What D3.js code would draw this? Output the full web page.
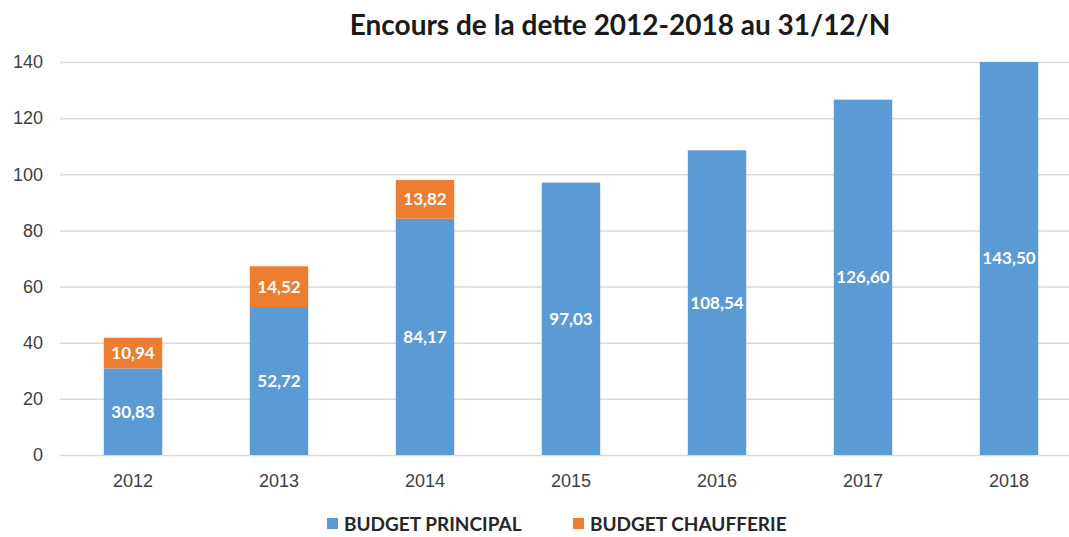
<!DOCTYPE html>
<html>
<head>
<meta charset="utf-8">
<script src="https://cdn.jsdelivr.net/npm/d3@7"></script>
<style>
  body { margin: 0; background: #fff; }
  svg { display: block; font-family: Lato, "Open Sans", sans-serif; }
  .grid line { stroke: #d9d9d9; stroke-width: 1.5; }
  .grid path { display: none; }
  .tick text { fill: #404040; font-size: 18px; }
  .bar-label { fill: #fff; font-size: 17px; font-weight: bold; }
</style>
</head>
<body>
<svg id="chart"></svg>
<script>
const years = ['2012', '2013', '2014', '2015', '2016', '2017', '2018'];
const principal = [30.83, 52.72, 84.17, 97.03, 108.54, 126.60, 143.50];
const chaufferie = [10.94, 14.52, 13.82, 0, 0, 0, 0];
const seriesNames = ['BUDGET PRINCIPAL', 'BUDGET CHAUFFERIE'];
const colors = ['#5b9bd5', '#ed7d31'];
const yTicks = [0, 20, 40, 60, 80, 100, 120, 140];

const fullWidth = 1069;
const fullHeight = 537;

const svg = d3.select('#chart')
    .attr('width', fullWidth)
    .attr('height', fullHeight);

const x = d3.scaleBand()
    .domain(years)
    .range([60, 1082])
    .paddingInner(0.6)
    .paddingOuter(0.3);

const y = d3.scaleLinear()
    .domain([0, 140])
    .range([455, 62]);

// gridlines
svg.append('g')
    .attr('class', 'grid')
    .attr('transform', 'translate(60, 0)')
    .call(d3.axisLeft(y)
      .tickValues(yTicks)
      .tickSizeInner(-1040)
      .tickSizeOuter(0)
      .tickPadding(17)
      .tickFormat(d3.format('d')))
    .selectAll('text')
      .attr('text-anchor', 'end');

// x axis labels
svg.append('g')
    .attr('class', 'grid xaxis')
    .attr('transform', 'translate(0, 455)')
    .call(d3.axisBottom(x).tickSize(0).tickPadding(19))
    .call(g => g.select('.domain').remove());

// stacked bars
const rows = years.map((yr, i) => ({ year: yr, principal: principal[i], chaufferie: chaufferie[i] }));
const stack = d3.stack().keys(['principal', 'chaufferie'])(rows);

svg.append('clipPath').attr('id', 'plot-clip')
  .append('rect')
    .attr('x', 0)
    .attr('y', y(140))
    .attr('width', fullWidth)
    .attr('height', y(0) - y(140));

const layers = svg.append('g')
    .attr('clip-path', 'url(#plot-clip)')
  .selectAll('g')
  .data(stack)
  .join('g')
    .attr('fill', (d, i) => colors[i]);

layers.selectAll('rect')
  .data(d => d.filter(s => s[1] - s[0] > 0))
  .join('rect')
    .attr('x', d => x(d.data.year))
    .attr('width', x.bandwidth())
    .attr('y', d => y(d[1]))
    .attr('height', d => y(d[0]) - y(d[1]));

// value labels (centred in the visible part of each segment)
const fmt = v => d3.format('.2f')(v).replace('.', ',');
stack.forEach((layer) => {
  svg.append('g')
    .selectAll('text')
    .data(layer.filter(s => s[1] - s[0] > 0))
    .join('text')
      .attr('class', 'bar-label')
      .attr('x', d => x(d.data.year) + x.bandwidth() / 2)
      .attr('y', d => (y(d[0]) + y(Math.min(d[1], 140))) / 2)
      .attr('dy', '0.35em')
      .attr('text-anchor', 'middle')
      .text(d => fmt(d[1] - d[0]));
});

// title
svg.append('text')
    .attr('x', 620)
    .attr('y', 35)
    .attr('text-anchor', 'middle')
    .style('font-size', '28px')
    .style('font-weight', 'bold')
    .style('fill', '#1a1a1a')
    .text('Encours de la dette 2012-2018 au 31/12/N');

// legend
const legendX = [327, 573];
const legend = svg.append('g')
  .selectAll('g')
  .data(seriesNames)
  .join('g')
    .attr('transform', (d, i) => `translate(${legendX[i]}, 524)`);

legend.append('rect')
    .attr('x', 0)
    .attr('y', -6)
    .attr('width', 11)
    .attr('height', 11)
    .attr('fill', (d, i) => colors[i]);

legend.append('text')
    .attr('x', 17)
    .attr('dy', '0.35em')
    .style('font-size', '19px')
    .style('font-weight', 'bold')
    .style('fill', '#262626')
    .text(d => d);
</script>
</body>
</html>
